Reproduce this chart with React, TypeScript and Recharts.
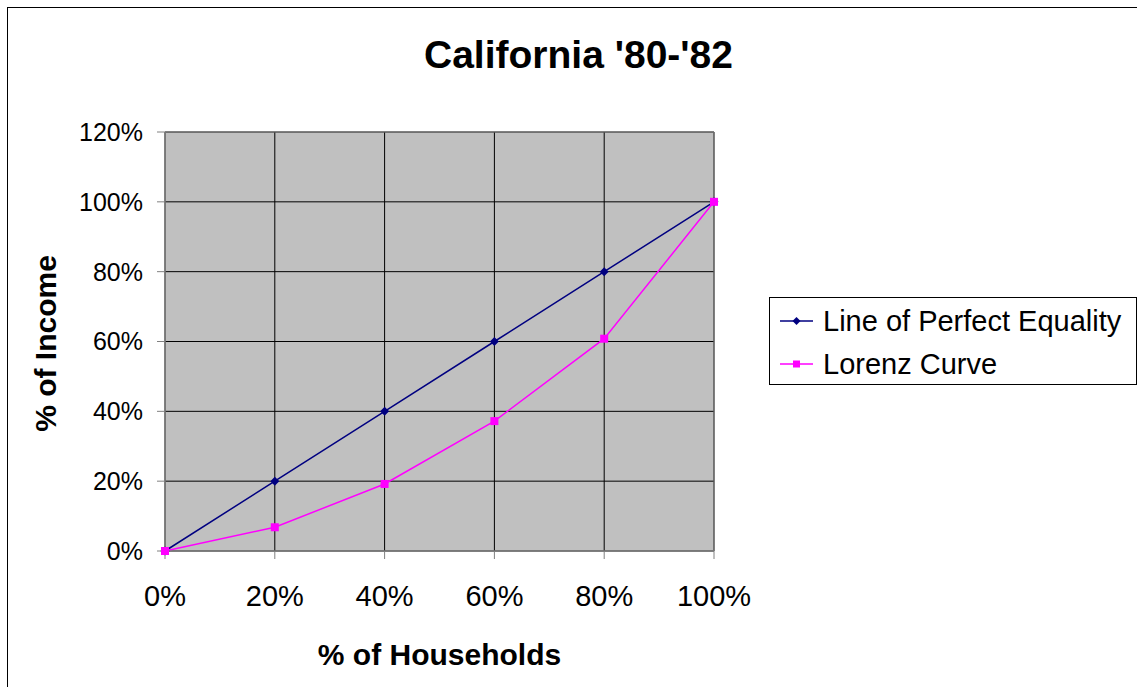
import React from "react";
import {
  LineChart,
  Line,
  XAxis,
  YAxis,
  CartesianGrid,
  ReferenceArea,
} from "recharts";

// cumulative % of households
const households = [0, 20, 40, 60, 80, 100];
// cumulative % of income, perfect equality
const equality = [0, 20, 40, 60, 80, 100];
// cumulative % of income, California '80-'82
const lorenz = [0, 6.8, 19.2, 37.2, 60.8, 100];

const xTicks = [0, 20, 40, 60, 80, 100];
const yTicks = [0, 20, 40, 60, 80, 100, 120];

const SERIES = [
  { key: "equality", name: "Line of Perfect Equality", color: "#000080", marker: "diamond" },
  { key: "lorenz", name: "Lorenz Curve", color: "#FF00FF", marker: "square" },
];

const FONT = "Arial, 'Liberation Sans', sans-serif";

const chartData = households.map((h, i) => ({
  pct: h,
  equality: equality[i],
  lorenz: lorenz[i],
}));

const Diamond = (props: any) => {
  const { cx, cy, fill } = props;
  if (cx == null || cy == null) return null;
  const r = 4.5;
  return (
    <polygon
      points={`${cx},${cy - r} ${cx + r},${cy} ${cx},${cy + r} ${cx - r},${cy}`}
      fill={fill}
    />
  );
};

const Square = (props: any) => {
  const { cx, cy, fill } = props;
  if (cx == null || cy == null) return null;
  const s = 8;
  return <rect x={cx - s / 2} y={cy - s / 2} width={s} height={s} fill={fill} />;
};

// legend drawn as a box to the right of the plot, like the Excel original
const LegendBox = () => (
  <div
    style={{
      position: "absolute",
      left: 769,
      top: 297,
      width: 368,
      border: "1px solid #000",
      boxSizing: "border-box",
      background: "#fff",
      paddingLeft: 9,
      fontFamily: FONT,
      fontSize: 29,
      color: "#000",
    }}
  >
    {SERIES.map((s, i) => (
      <div
        key={s.key}
        style={{ display: "flex", alignItems: "center", height: i === 0 ? 46 : 40 }}
      >
        <svg width={44} height={20}>
          <line x1={1} y1={10} x2={34} y2={10} stroke={s.color} strokeWidth={1.5} />
          {s.marker === "diamond" ? (
            <polygon points="17.5,6 21.5,10 17.5,14 13.5,10" fill={s.color} />
          ) : (
            <rect x={14} y={6.5} width={7} height={7} fill={s.color} />
          )}
        </svg>
        <span style={{ whiteSpace: "nowrap" }}>{s.name}</span>
      </div>
    ))}
  </div>
);

export default function App() {
  return (
    <div
      style={{
        position: "fixed",
        left: 0,
        top: 0,
        width: 1137,
        height: 687,
        overflow: "hidden",
        background: "#fff",
      }}
    >
      <div
        style={{
          position: "absolute",
          left: 7,
          top: 7,
          width: 1150,
          height: 700,
          border: "1px solid #000",
          boxSizing: "border-box",
        }}
      />
      <div
        style={{
          position: "absolute",
          left: 0,
          width: 1157,
          top: 33,
          textAlign: "center",
          fontFamily: FONT,
          fontWeight: "bold",
          fontSize: 39,
          color: "#000",
          lineHeight: "44px",
        }}
      >
        California '80-'82
      </div>
      <div style={{ position: "absolute", left: 0, top: 0 }}>
        <LineChart
          width={1137}
          height={687}
          data={chartData}
          margin={{ top: 132, right: 423, left: 0, bottom: 0 }}
        >
          <CartesianGrid
            stroke="#000"
            strokeWidth={1}
            fill="#C0C0C0"
            fillOpacity={1}
            horizontalValues={yTicks}
            verticalValues={xTicks}
          />
          <ReferenceArea
            x1={0}
            x2={100}
            y1={0}
            y2={120}
            fill="none"
            fillOpacity={0}
            stroke="#808080"
            strokeWidth={1}
            ifOverflow="visible"
          />
          <XAxis
            dataKey="pct"
            type="number"
            domain={[0, 100]}
            ticks={xTicks}
            tickFormatter={(v) => `${v}%`}
            height={136}
            tickSize={8}
            tickMargin={26}
            axisLine={{ stroke: "#808080" }}
            tickLine={{ stroke: "#808080" }}
            tick={{ fill: "#000", fontSize: 29, fontFamily: FONT }}
            label={{
              content: (p: any) => {
                const vb = p.viewBox;
                return (
                  <text
                    x={vb.x + vb.width / 2}
                    y={654}
                    textAnchor="middle"
                    dominantBaseline="central"
                    fontFamily={FONT}
                    fontWeight="bold"
                    fontSize={30}
                    fill="#000"
                  >
                    % of Households
                  </text>
                );
              },
            }}
          />
          <YAxis
            type="number"
            domain={[0, 120]}
            ticks={yTicks}
            tickFormatter={(v) => `${v}%`}
            width={165}
            tickSize={8}
            tickMargin={14}
            axisLine={{ stroke: "#808080" }}
            tickLine={{ stroke: "#808080" }}
            tick={{ fill: "#000", fontSize: 25, fontFamily: FONT }}
            label={{
              content: (p: any) => {
                const vb = p.viewBox;
                const cx = 45;
                const cy = vb.y + vb.height / 2 + 2;
                return (
                  <text
                    x={cx}
                    y={cy}
                    transform={`rotate(-90 ${cx} ${cy})`}
                    textAnchor="middle"
                    dominantBaseline="central"
                    fontFamily={FONT}
                    fontWeight="bold"
                    fontSize={30}
                    fill="#000"
                  >
                    % of Income
                  </text>
                );
              },
            }}
          />
          <Line
            type="linear"
            dataKey="equality"
            name="Line of Perfect Equality"
            stroke="#000080"
            strokeWidth={1.5}
            dot={(p: any) => <Diamond key={`d${p.index}`} {...p} fill="#000080" />}
            activeDot={false}
            isAnimationActive={false}
          />
          <Line
            type="linear"
            dataKey="lorenz"
            name="Lorenz Curve"
            stroke="#FF00FF"
            strokeWidth={1.5}
            dot={(p: any) => <Square key={`s${p.index}`} {...p} fill="#FF00FF" />}
            activeDot={false}
            isAnimationActive={false}
          />
        </LineChart>
      </div>
      <LegendBox />
    </div>
  );
}
